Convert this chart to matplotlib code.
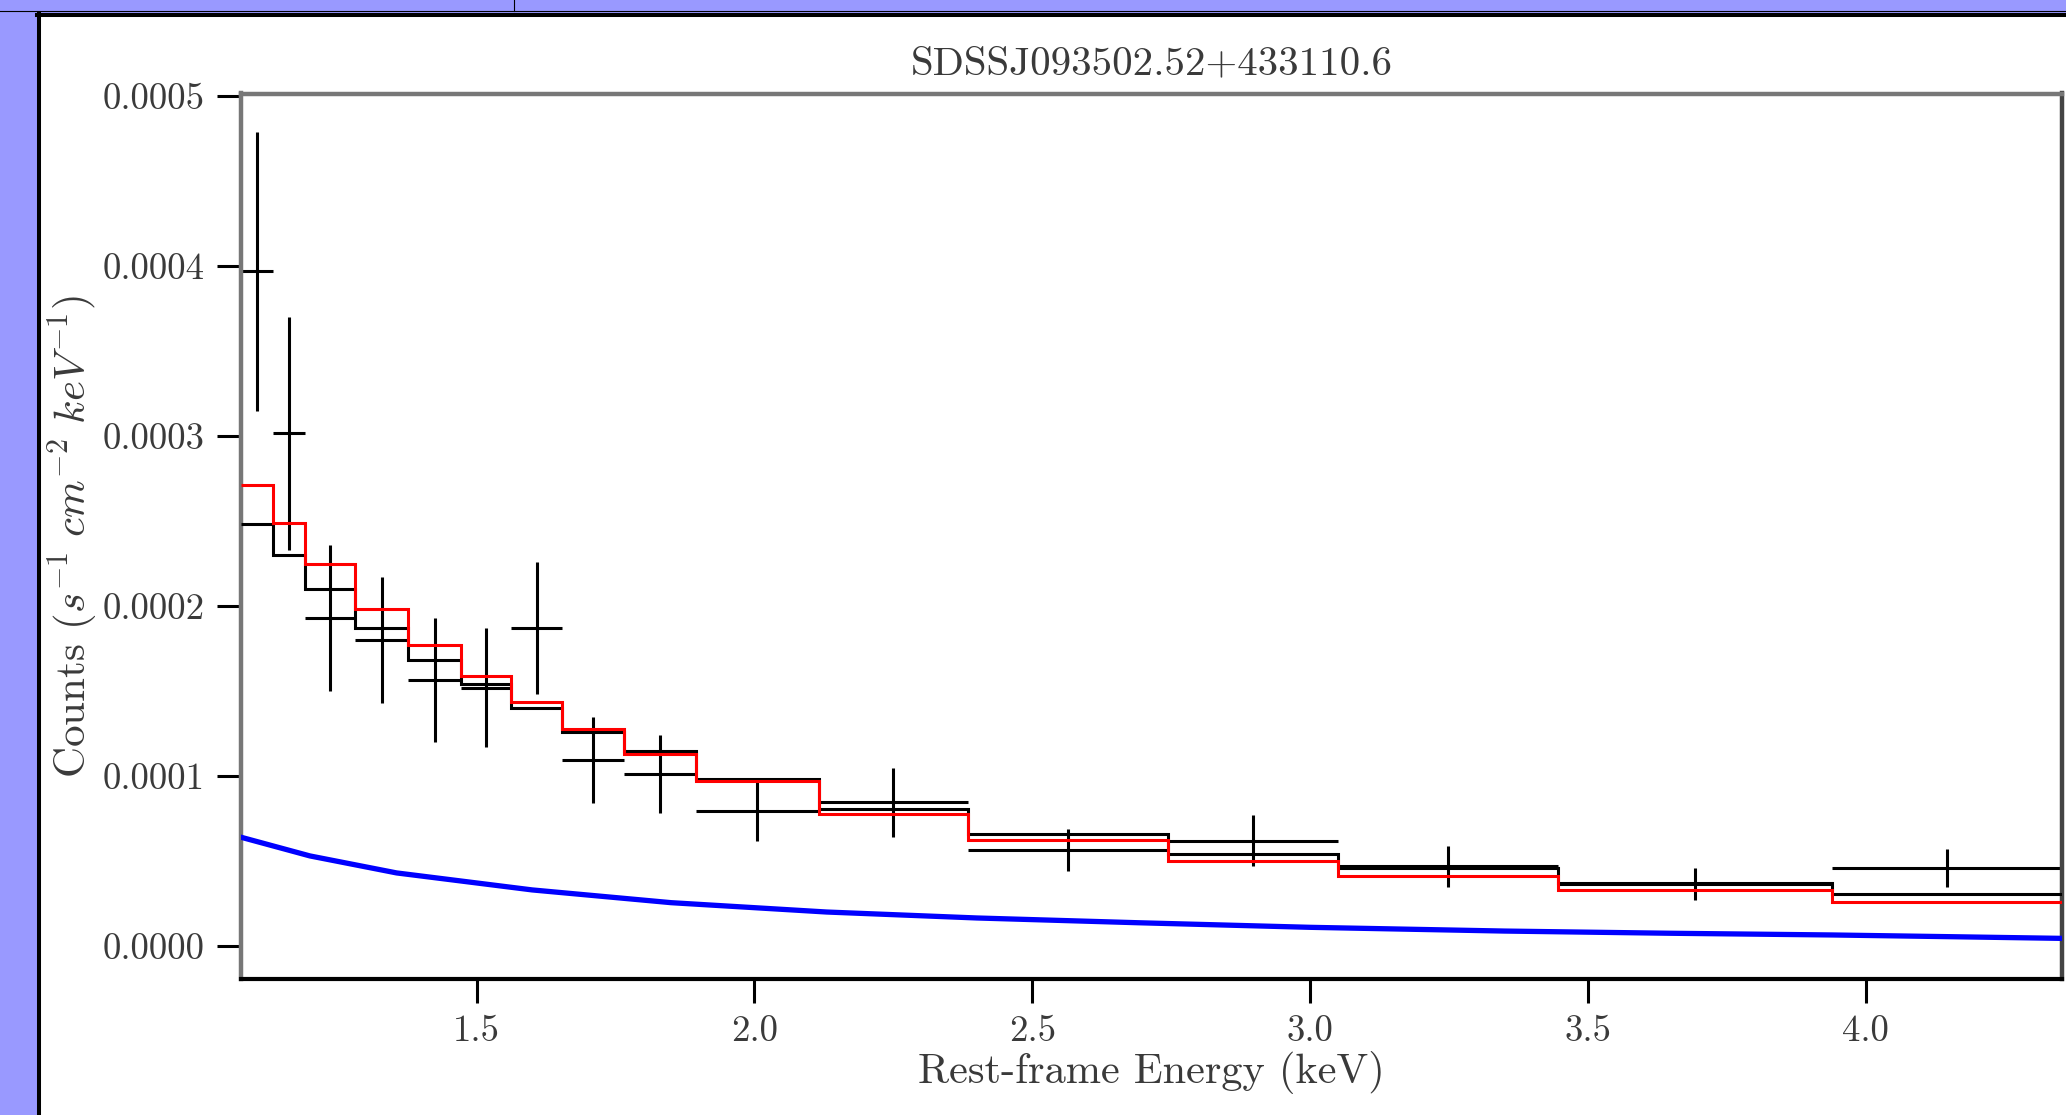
import matplotlib
matplotlib.use("Agg")
import matplotlib.pyplot as plt
import numpy as np
from matplotlib.ticker import FormatStrFormatter, FixedLocator
from matplotlib.patches import Rectangle
from matplotlib.lines import Line2D

plt.rcParams['font.family'] = ['cmr10', 'DejaVu Serif']
plt.rcParams['mathtext.fontset'] = 'cm'
plt.rcParams['axes.unicode_minus'] = False
plt.rcParams['axes.formatter.use_mathtext'] = True

title = "SDSSJ093502.52+433110.6"

# bin edges (keV), shared by data and models
edges = [1.076, 1.133, 1.192, 1.282, 1.377, 1.472, 1.562, 1.654, 1.766,
         1.894, 2.116, 2.384, 2.744, 3.050, 3.446, 3.939, 4.353]

# data points (counts in units of 1e-4)
energy = [1.105, 1.163, 1.237, 1.330, 1.425, 1.517, 1.608, 1.710, 1.830,
          2.005, 2.250, 2.564, 2.897, 3.248, 3.692, 4.146]
counts = [3.97, 3.015, 1.93, 1.80, 1.565, 1.52, 1.87, 1.095, 1.01,
          0.795, 0.845, 0.565, 0.62, 0.47, 0.364, 0.46]
counts_err = [0.82, 0.685, 0.43, 0.37, 0.365, 0.35, 0.39, 0.255, 0.23,
              0.18, 0.205, 0.125, 0.15, 0.12, 0.094, 0.11]

# folded models (units of 1e-4)
model_black = [2.48, 2.30, 2.10, 1.87, 1.68, 1.54, 1.40, 1.26, 1.145,
               0.98, 0.805, 0.66, 0.54, 0.46, 0.37, 0.306]
model_red = [2.71, 2.49, 2.25, 1.98, 1.77, 1.59, 1.435, 1.275, 1.13,
             0.973, 0.776, 0.624, 0.50, 0.41, 0.329, 0.26]

# smooth component (units of 1e-4)
comp_e = [1.076, 1.2, 1.356, 1.6, 1.85, 2.13, 2.4, 2.69, 3.0, 3.35,
          3.65, 3.94, 4.15, 4.353]
comp_v = [0.64, 0.53, 0.43, 0.33, 0.255, 0.20, 0.165, 0.137, 0.11, 0.088,
          0.075, 0.065, 0.055, 0.045]

xticks = [1.5, 2.0, 2.5, 3.0, 3.5, 4.0]
yticks = [0.0, 0.0001, 0.0002, 0.0003, 0.0004, 0.0005]

W, H = 2066, 1115
fig = plt.figure(figsize=(W / 100, H / 100), dpi=100)
fig.patch.set_facecolor('#9999ff')

# white panel and window borders of the screenshot
fig.patches.append(Rectangle((41 / W, 0), 1 - 41 / W, 1 - 17 / H,
                             transform=fig.transFigure, facecolor='white',
                             edgecolor='none', zorder=-5))
fig.lines.append(Line2D([39 / W, 39 / W], [0, 1 - 13.5 / H], transform=fig.transFigure,
                        color='black', lw=2.9))
fig.lines.append(Line2D([37 / W, 1], [1 - 15.3 / H, 1 - 15.3 / H], transform=fig.transFigure,
                        color='black', lw=2.9))
fig.lines.append(Line2D([0, 1], [1 - 10.5 / H, 1 - 10.5 / H], transform=fig.transFigure,
                        color='black', lw=0.8))
fig.lines.append(Line2D([514 / W, 514 / W], [1 - 10.5 / H, 1], transform=fig.transFigure,
                        color='black', lw=0.8))

ax = fig.add_axes([241 / W, 1 - 979 / H, (2062 - 241) / W, (979 - 93.5) / H])

e = np.array(edges)
x = np.array(energy)
y = np.array(counts) * 1e-4
yerr = np.array(counts_err) * 1e-4
xerr = [x - e[:-1], e[1:] - x]

ax.errorbar(x, y, xerr=xerr, yerr=yerr, fmt='none', ecolor='black',
            elinewidth=2.2, capsize=0, zorder=2)
ax.stairs(np.array(model_black) * 1e-4, e, baseline=None, color='black', lw=2.2, zorder=3)
ax.stairs(np.array(model_red) * 1e-4, e, baseline=None, color='red', lw=2.2, zorder=4)
ax.plot(comp_e, np.array(comp_v) * 1e-4, color='blue', lw=3.8, zorder=5)

ax.set_xlim(1.076, 4.353)
ax.set_ylim(-0.194e-4, 5.015e-4)
ax.xaxis.set_major_locator(FixedLocator(xticks))
ax.yaxis.set_major_locator(FixedLocator(yticks))
ax.xaxis.set_major_formatter(FormatStrFormatter('%.1f'))
ax.yaxis.set_major_formatter(FormatStrFormatter('%.4f'))
ax.tick_params(axis='both', direction='out', length=17, width=2.2, color='black',
               labelsize=26.5, labelcolor='#3a3a3a', pad=9)

for side, col, lw in [('left', '#777777', 3.2), ('top', '#777777', 3.2),
                      ('bottom', 'black', 3.0), ('right', '#444444', 3.2)]:
    ax.spines[side].set_color(col)
    ax.spines[side].set_linewidth(lw)

ax.set_title(title, fontsize=29.5, color='#3a3a3a', pad=14)
ax.set_xlabel('Rest-frame Energy (keV)', fontsize=30.5, color='#3a3a3a', labelpad=2)
ax.set_ylabel(r'Counts ($s^{-1}\ cm^{-2}\ keV^{-1}$)', fontsize=31, color='#3a3a3a',
              labelpad=2)

fig.savefig('out.png', dpi=100, facecolor=fig.get_facecolor())
